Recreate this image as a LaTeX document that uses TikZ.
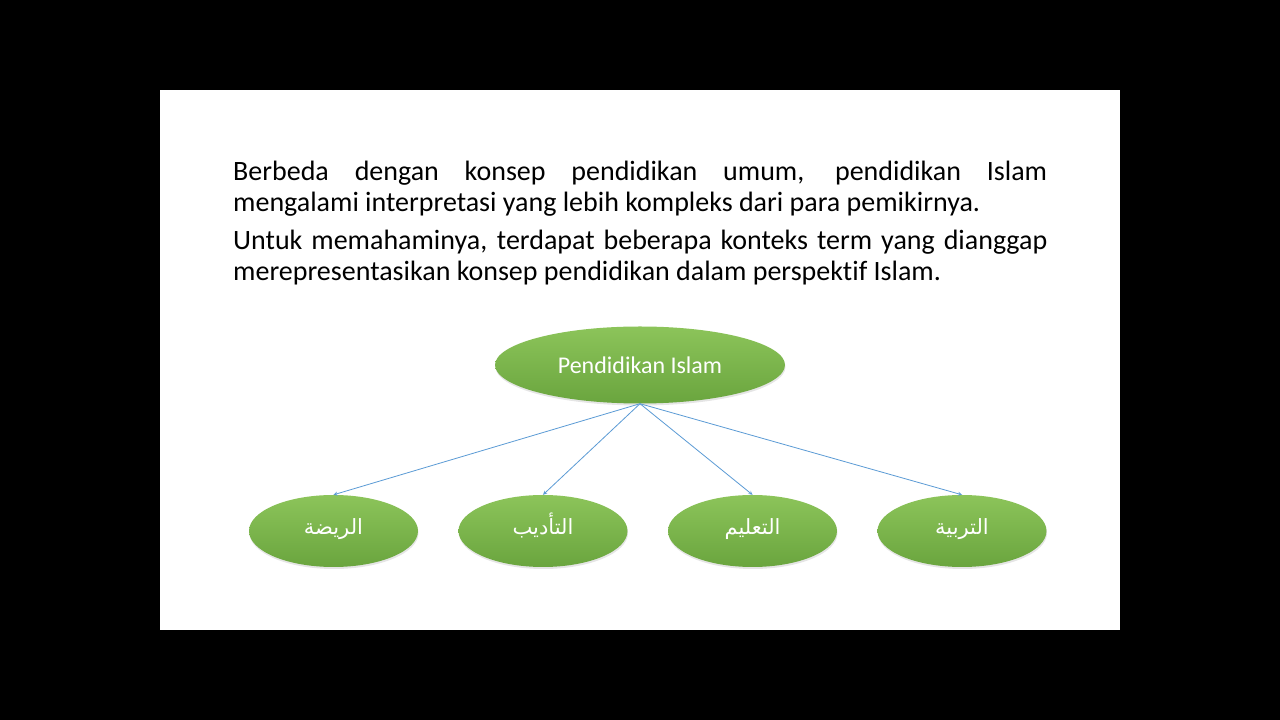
\documentclass[tikz,border=0pt]{standalone}
\usepackage{fontspec}
\setmainfont{Carlito}[Ligatures=CommonOff]
\newfontfamily\arabicfont[Script=Arabic]{DejaVu Sans}
\TeXXeTstate=1
\usetikzlibrary{arrows,shapes.geometric,shadows}

\definecolor{leafTop}{RGB}{140,196,90}
\definecolor{leafBot}{RGB}{106,165,62}
\definecolor{linkBlue}{RGB}{91,155,213}

\tikzset{
  term/.style={ellipse, minimum width=169pt, minimum height=72pt, inner sep=0pt,
    top color=leafTop, bottom color=leafBot, text=white,
    text height=13pt, text depth=5pt,
    drop shadow={opacity=0.2, shadow xshift=0.5pt, shadow yshift=-2pt},
    font=\arabicfont\fontsize{21}{25}\selectfont},
  rootterm/.style={term, minimum width=290pt, minimum height=77pt,
    text height=, text depth=,
    font=\fontsize{24}{28}\selectfont},
  link/.style={->, >=stealth, linkBlue, line width=0.8pt}
}

\begin{document}
\begin{tikzpicture}[x=1pt,y=1pt]

\fill[black] (0,0) rectangle (1280,720);
\fill[white] (160,90) rectangle (1120,630);

\node[anchor=north west, inner sep=0pt, text width=814pt, align=justify,
  font=\fontsize{28}{31}\selectfont] (intro) at (233,559)
  {Berbeda dengan konsep pendidikan umum, pendidikan Islam\linebreak
   mengalami interpretasi yang lebih kompleks dari para pemikirnya.\par
   \vspace{6.5pt}%
   Untuk memahaminya, terdapat beberapa konteks term yang dianggap\linebreak
   merepresentasikan konsep pendidikan dalam perspektif Islam.};

\node[rootterm] (pend) at (640,355) {Pendidikan Islam};

\node[term] (riyadah) at (333.5,189) {\beginR الريضة\endR};
\node[term] (tadib) at (543,189) {\beginR التأديب\endR};
\node[term] (talim) at (752.5,189) {\beginR التعليم\endR};
\node[term] (tarbiyah) at (962,189) {\beginR التربية\endR};

\draw[link] (pend.south) -- (riyadah.north);
\draw[link] (pend.south) -- (tadib.north);
\draw[link] (pend.south) -- (talim.north);
\draw[link] (pend.south) -- (tarbiyah.north);

\end{tikzpicture}
\end{document}
